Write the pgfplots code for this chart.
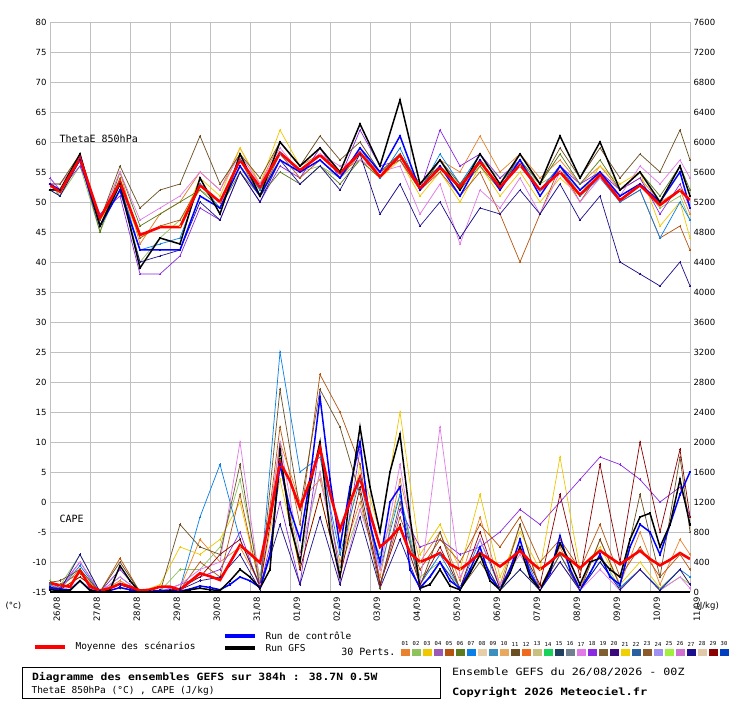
\documentclass[border=0pt]{standalone}
\usepackage{pgfplots}
\pgfplotsset{compat=1.18}
\usepackage{fontspec}
\setmainfont{DejaVu Sans}
\newfontfamily\mono{DejaVu Sans Mono}
\definecolor{c01}{HTML}{E8822E}\definecolor{c02}{HTML}{8FC25C}\definecolor{c03}{HTML}{F0C800}
\definecolor{c04}{HTML}{9B59B6}\definecolor{c05}{HTML}{B4540F}\definecolor{c06}{HTML}{5C7A1E}
\definecolor{c07}{HTML}{0A7FE8}\definecolor{c08}{HTML}{E6CFA8}\definecolor{c09}{HTML}{3A8FBF}
\definecolor{c10}{HTML}{E8A860}\definecolor{c11}{HTML}{6B4F22}\definecolor{c12}{HTML}{F06A1E}
\definecolor{c13}{HTML}{C8C080}\definecolor{c14}{HTML}{18D25A}\definecolor{c15}{HTML}{204060}
\definecolor{c16}{HTML}{708090}\definecolor{c17}{HTML}{E27BE8}\definecolor{c18}{HTML}{8A2BE2}
\definecolor{c19}{HTML}{806030}\definecolor{c20}{HTML}{3A0A7A}\definecolor{c21}{HTML}{F0D000}
\definecolor{c22}{HTML}{2A60A0}\definecolor{c23}{HTML}{8A5A2A}\definecolor{c24}{HTML}{A090F0}
\definecolor{c25}{HTML}{A0F040}\definecolor{c26}{HTML}{D070D0}\definecolor{c27}{HTML}{1C0E8C}
\definecolor{c28}{HTML}{E0C8A8}\definecolor{c29}{HTML}{8B0000}\definecolor{c30}{HTML}{0040C0}
\definecolor{gridc}{HTML}{C0C0C0}
\newcommand\TE[2]{\addplot[#1] table[header=false,row sep=\\,x expr={\coordindex==0?0:(\coordindex==33?384:12*\coordindex-6)},y index=0]{#2};}
\newcommand\CP[2]{\addplot[#1] table[header=false,row sep=\\,x expr={\coordindex==0?0:(\coordindex==33?384:12*\coordindex-6)},y expr={\thisrowno{0}/80-15}]{#2};}
\newcommand\CS[2]{\addplot[#1] table[header=false,row sep=\\,x expr={6*\coordindex},y expr={\thisrowno{0}/80-15}]{#2};}
\tikzset{pert/.style={color=#1,line width=0.7pt,mark=+,mark size=1.3pt}}
\begin{document}
\begin{tikzpicture}[x=1pt,y=1pt]
\fill[white] (-50,-108) rectangle (690,592);
\begin{axis}[scale only axis,width=640pt,height=570pt,xmin=0,xmax=384,ymin=-15,ymax=80,
 xtick={0,24,...,384},xticklabels={},ytick={-15,-10,...,80},
 grid=major,grid style={gridc,line width=0.8pt},axis line style={draw=none},
 tick style={draw=none},yticklabel style={font=\fontsize{8.5}{9}\selectfont},
 /pgf/number format/assume math mode=true,clip=true]
\TE{pert=c01}{53\\52\\58\\47\\55\\43\\48\\50\\55\\52\\59\\53\\60\\56\\58\\55\\57\\54\\58\\53\\57\\55\\61\\55\\58\\54\\57\\53\\56\\52\\54\\50\\52\\48\\}
\TE{pert=c02}{52\\51\\56\\45\\53\\40\\44\\47\\52\\50\\56\\52\\57\\55\\56\\54\\57\\55\\58\\52\\56\\53\\57\\54\\56\\53\\55\\52\\54\\51\\53\\49\\51\\47\\}
\TE{pert=c03}{53\\53\\57\\47\\52\\44\\46\\46\\54\\51\\59\\53\\62\\56\\59\\55\\58\\54\\57\\51\\55\\50\\56\\51\\55\\50\\54\\51\\56\\53\\55\\46\\50\\44\\}
\TE{pert=c18}{54\\52\\56\\48\\51\\38\\38\\41\\49\\47\\55\\50\\56\\54\\59\\54\\62\\56\\57\\52\\62\\56\\58\\54\\57\\52\\56\\53\\55\\52\\54\\48\\53\\49\\}
\TE{pert=c05}{52\\52\\57\\46\\54\\44\\46\\47\\53\\50\\57\\51\\58\\54\\57\\54\\58\\55\\57\\52\\55\\51\\55\\48\\40\\48\\56\\50\\55\\50\\52\\44\\46\\42\\}
\TE{pert=c06}{53\\51\\57\\45\\55\\46\\48\\50\\52\\49\\55\\51\\55\\53\\56\\53\\57\\54\\58\\53\\56\\52\\56\\52\\57\\53\\58\\53\\57\\52\\55\\51\\56\\52\\}
\TE{pert=c07}{52\\52\\57\\46\\53\\42\\43\\44\\53\\49\\57\\52\\58\\55\\57\\54\\59\\54\\59\\52\\58\\53\\58\\53\\57\\52\\56\\51\\54\\50\\52\\44\\50\\47\\}
\TE{pert=c17}{53\\53\\57\\47\\55\\47\\49\\51\\55\\52\\58\\53\\59\\55\\58\\56\\57\\55\\56\\48\\53\\43\\52\\49\\54\\48\\55\\50\\54\\51\\56\\53\\57\\54\\}
\TE{pert=c27}{52\\51\\57\\46\\52\\40\\41\\42\\50\\47\\55\\50\\57\\53\\56\\52\\58\\48\\53\\46\\50\\44\\49\\48\\52\\48\\53\\47\\51\\40\\38\\36\\40\\36\\}
\TE{pert=c11}{53\\53\\58\\47\\56\\49\\52\\53\\61\\53\\58\\54\\60\\56\\61\\57\\60\\55\\58\\52\\57\\53\\57\\52\\58\\53\\59\\54\\59\\54\\58\\55\\62\\57\\}
\TE{blue,line width=1.5pt,mark=+,mark size=1.2pt}{53\\52\\57\\46\\52\\42\\42\\42\\51\\49\\56\\51\\57\\55\\57\\54\\59\\55\\61\\52\\56\\51\\57\\52\\57\\51\\56\\52\\55\\51\\53\\50\\55\\49\\}
\TE{black,line width=1.5pt,mark=+,mark size=1.2pt}{52\\52\\58\\46\\53\\39\\44\\43\\54\\48\\58\\51\\60\\56\\59\\55\\63\\56\\67\\53\\57\\52\\58\\53\\58\\53\\61\\54\\60\\52\\55\\50\\56\\51\\}
\TE{red,line width=2.6pt}{52.8\\51.7\\57.3\\47.3\\53.3\\44.5\\45.8\\45.8\\52.8\\50\\57\\52.5\\58.2\\55.3\\57.8\\54.8\\58.2\\54.2\\57.8\\52.3\\55.7\\52.5\\56.7\\52.5\\56.2\\52\\55\\51.2\\54.5\\50.3\\52.8\\49.5\\52\\50.3\\}
% CAPE perturbations
\CP{pert=c01}{100\\50\\300\\0\\150\\0\\0\\50\\700\\400\\600\\100\\2000\\1200\\1500\\400\\1200\\200\\1500\\400\\800\\150\\1000\\100\\900\\50\\600\\50\\700\\100\\800\\100\\700\\500\\}
\CP{pert=c02}{150\\80\\500\\0\\100\\0\\10\\300\\300\\600\\1500\\200\\1800\\400\\1600\\300\\1100\\500\\1300\\200\\400\\60\\500\\30\\300\\30\\400\\30\\500\\50\\300\\30\\200\\100\\}
\CP{pert=c03}{80\\40\\200\\0\\50\\0\\100\\600\\500\\700\\1200\\100\\1500\\300\\1300\\200\\1700\\800\\2400\\500\\900\\300\\1300\\200\\800\\300\\1800\\300\\600\\100\\400\\50\\300\\100\\}
\CP{pert=c18}{120\\60\\400\\0\\300\\0\\0\\100\\200\\300\\800\\50\\1200\\100\\2000\\200\\1900\\100\\1100\\600\\700\\500\\600\\800\\1100\\900\\1200\\1500\\1800\\1700\\1500\\1200\\1400\\1000\\}
\CP{pert=c05}{100\\100\\250\\0\\450\\0\\0\\30\\400\\200\\1300\\80\\2200\\900\\2900\\2400\\1700\\100\\1000\\300\\700\\400\\900\\600\\1000\\400\\700\\300\\900\\200\\600\\200\\500\\300\\}
\CP{pert=c07}{90\\40\\350\\0\\200\\0\\0\\50\\1000\\1700\\700\\100\\3200\\1600\\1800\\500\\1500\\300\\1300\\100\\500\\50\\700\\50\\600\\30\\500\\30\\400\\60\\300\\40\\300\\200\\}
\CP{pert=c17}{60\\30\\400\\0\\200\\0\\0\\100\\300\\400\\2000\\100\\2000\\500\\1600\\100\\1100\\300\\1700\\100\\2200\\200\\700\\100\\500\\50\\400\\20\\300\\20\\300\\20\\200\\50\\}
\CP{pert=c29}{50\\30\\200\\0\\100\\0\\0\\50\\200\\500\\700\\80\\1700\\300\\1300\\200\\1400\\100\\900\\100\\600\\50\\800\\40\\600\\100\\1300\\200\\1700\\400\\2000\\800\\1900\\1000\\}
\CP{pert=c27}{40\\20\\500\\0\\100\\0\\0\\30\\150\\200\\500\\30\\900\\100\\1000\\100\\1000\\50\\700\\30\\400\\20\\500\\20\\300\\20\\400\\20\\400\\30\\300\\20\\300\\100\\}
\CP{pert=c11}{130\\150\\300\\0\\400\\0\\0\\900\\600\\500\\1700\\50\\2700\\1100\\2700\\2200\\1300\\50\\1200\\80\\800\\30\\400\\20\\900\\20\\500\\10\\700\\80\\1300\\200\\1800\\800\\}
\CS{blue,line width=1.5pt,mark=+,mark size=1.2pt}{60\\40\\30\\150\\30\\10\\20\\60\\30\\0\\10\\20\\20\\10\\40\\80\\60\\30\\100\\200\\150\\60\\500\\1700\\1100\\700\\1500\\2600\\1500\\600\\1400\\2000\\900\\400\\1200\\1400\\300\\60\\200\\400\\150\\50\\300\\600\\200\\30\\300\\700\\250\\30\\250\\750\\300\\30\\250\\500\\200\\100\\600\\900\\800\\500\\900\\1300\\1600\\}
\CS{black,line width=1.5pt,mark=+,mark size=1.2pt}{30\\20\\20\\150\\20\\0\\30\\350\\150\\0\\0\\0\\10\\0\\30\\50\\30\\20\\150\\300\\200\\50\\300\\1900\\900\\400\\1400\\2000\\800\\200\\1300\\2200\\1400\\800\\1600\\2100\\1000\\50\\100\\300\\80\\30\\250\\500\\150\\30\\250\\600\\200\\30\\300\\650\\400\\100\\400\\450\\300\\200\\700\\1000\\1050\\600\\900\\1500\\900\\}
\CS{red,line width=2.6pt}{120\\90\\70\\290\\70\\20\\50\\110\\70\\20\\30\\70\\70\\30\\140\\250\\210\\160\\390\\625\\510\\390\\1000\\1730\\1480\\1120\\1480\\1920\\1320\\830\\1200\\1530\\1050\\600\\715\\865\\520\\400\\455\\520\\370\\300\\400\\520\\430\\340\\440\\550\\410\\300\\400\\520\\430\\320\\440\\550\\460\\370\\460\\550\\440\\355\\430\\520\\440\\}
\end{axis}
\begin{axis}[scale only axis,width=640pt,height=570pt,xmin=0,xmax=384,ymin=0,ymax=7600,
 ytick={0,400,...,7600},axis y line*=right,axis x line=none,axis line style={draw=none},
 tick style={draw=none},yticklabel style={font=\fontsize{8.5}{9}\selectfont},
 /pgf/number format/assume math mode=true,/pgf/number format/1000 sep={}]
\addplot[draw=none] coordinates {(0,0)};
\end{axis}
\draw[black,line width=1.5pt] (0,0)--(640,0);
\foreach \d [count=\i from 0] in {26/08,27/08,28/08,29/08,30/08,31/08,01/09,02/09,03/09,04/09,05/09,06/09,07/09,08/09,09/09,10/09,11/09}
 \node[rotate=90,anchor=east,inner sep=1pt,font=\fontsize{8.5}{9}\selectfont] at ({7+40*\i},-4) {\d};
\node[anchor=west,font=\fontsize{8.5}{9}\selectfont] at (-48,-14) {(°c)};
\node[anchor=west,font=\fontsize{8.5}{9}\selectfont] at (643,-14) {(J/kg)};
\node[anchor=west,font=\mono\fontsize{10}{11}\selectfont] at (6,453) {ThetaE 850hPa};
\node[anchor=west,font=\mono\fontsize{10}{11}\selectfont] at (6,73) {CAPE};
\draw[red,line width=4pt] (-15,-55)--(15,-55);
\node[anchor=west,font=\mono\fontsize{9.5}{11}\selectfont] at (22,-55) {Moyenne des scénarios};
\draw[blue,line width=4pt] (175,-44)--(205,-44);
\node[anchor=west,font=\mono\fontsize{9.5}{11}\selectfont] at (212,-44) {Run de contrôle};
\draw[black,line width=4pt] (175,-56)--(205,-56);
\node[anchor=west,font=\mono\fontsize{9.5}{11}\selectfont] at (212,-56) {Run GFS};
\node[anchor=east,font=\mono\fontsize{10}{11}\selectfont] at (349,-60) {30 Perts.};
\foreach \i in {1,...,30}{
 \pgfmathsetmacro\xx{355+11*(\i-1)}
 \ifnum\i<10 \def\lab{0\i}\else\def\lab{\i}\fi
 \ifnum\i<10 \def\cc{c0\i}\else\def\cc{c\i}\fi
 \node[font=\mono\fontsize{5.5}{6}\selectfont,inner sep=0pt] at (\xx,-52) {\lab};
 \fill[\cc] (\xx-4.5,-64) rectangle (\xx+4.5,-57);
}
\draw[black,line width=0.8pt] (-28,-75) rectangle (390,-106);
\node[anchor=west,xscale=1.14,font=\mono\bfseries\fontsize{10}{11}\selectfont] at (-22,-85) {Diagramme des ensembles GEFS sur 384h : 38.7N 0.5W};
\node[anchor=west,font=\mono\fontsize{9.5}{10}\selectfont] at (-22,-99) {ThetaE 850hPa (°C) , CAPE (J/kg)};
\node[anchor=west,xscale=1.17,font=\mono\fontsize{10}{11}\selectfont] at (398,-80) {Ensemble GEFS du 26/08/2026 - 00Z};
\node[anchor=west,xscale=1.2,font=\mono\bfseries\fontsize{10}{11}\selectfont] at (398,-100) {Copyright 2026 Meteociel.fr};
\end{tikzpicture}
\end{document}
